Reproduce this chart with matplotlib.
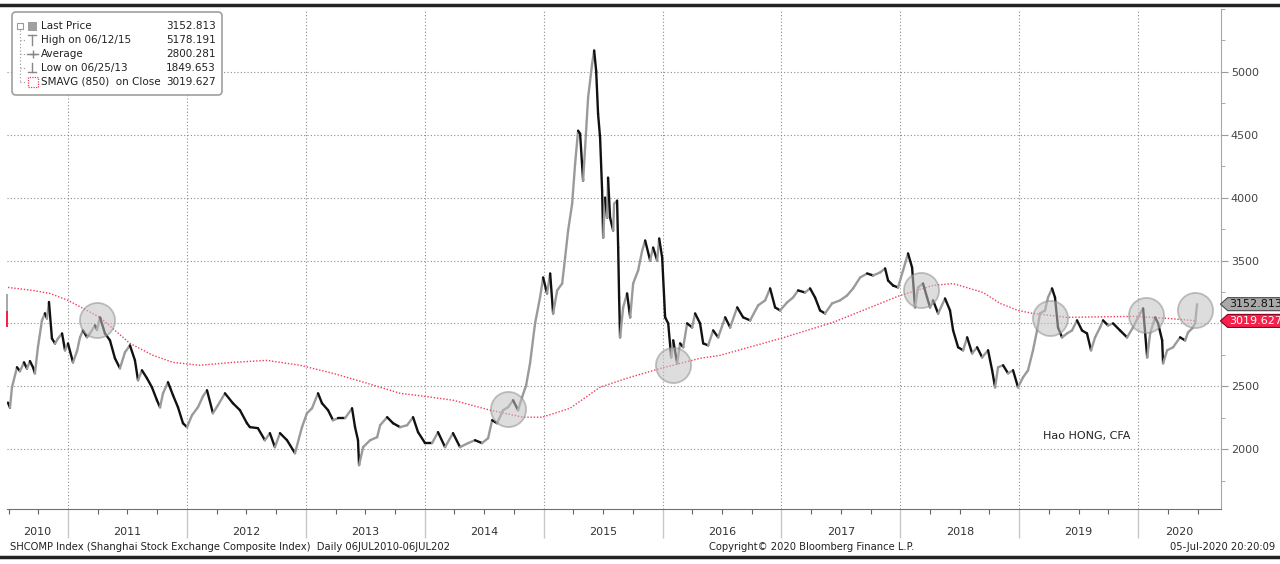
import numpy as np
import matplotlib
matplotlib.use('Agg')
import matplotlib.pyplot as plt
import matplotlib.transforms as mtransforms
from matplotlib.collections import LineCollection
from matplotlib.patches import Polygon, FancyBboxPatch, Rectangle
from matplotlib.lines import Line2D
from matplotlib.ticker import MultipleLocator, FixedLocator

plt.rcParams['font.family'] = ['DejaVu Sans']

# SHCOMP daily close (decimal years)
price_t = [
    2010.495, 2010.512, 2010.529, 2010.571, 2010.596, 2010.630, 2010.655, 2010.680, 2010.706, 2010.722,
    2010.747, 2010.781, 2010.806, 2010.823, 2010.840, 2010.865, 2010.891, 2010.916, 2010.950, 2010.975,
    2011.000, 2011.042, 2011.076, 2011.101, 2011.126, 2011.160, 2011.185, 2011.227, 2011.244, 2011.269,
    2011.311, 2011.353, 2011.395, 2011.437, 2011.479, 2011.521, 2011.563, 2011.589, 2011.622, 2011.664,
    2011.706, 2011.748, 2011.774, 2011.799, 2011.841, 2011.883, 2011.925, 2011.967, 2012.001, 2012.043,
    2012.093, 2012.135, 2012.169, 2012.219, 2012.261, 2012.320, 2012.387, 2012.446, 2012.505, 2012.530,
    2012.597, 2012.656, 2012.698, 2012.740, 2012.783, 2012.842, 2012.909, 2012.968, 2013.010, 2013.052,
    2013.103, 2013.136, 2013.187, 2013.229, 2013.271, 2013.330, 2013.389, 2013.414, 2013.439, 2013.448,
    2013.482, 2013.541, 2013.600, 2013.625, 2013.684, 2013.734, 2013.793, 2013.852, 2013.902, 2013.944,
    2014.003, 2014.062, 2014.112, 2014.171, 2014.238, 2014.297, 2014.365, 2014.423, 2014.482, 2014.533,
    2014.567, 2014.609, 2014.659, 2014.701, 2014.743, 2014.785, 2014.819, 2014.853, 2014.886, 2014.928,
    2014.970, 2014.996, 2015.029, 2015.055, 2015.080, 2015.114, 2015.156, 2015.181, 2015.206, 2015.240,
    2015.265, 2015.290, 2015.307, 2015.332, 2015.349, 2015.374, 2015.408, 2015.425, 2015.442, 2015.458,
    2015.475, 2015.492, 2015.501, 2015.517, 2015.534, 2015.542, 2015.559, 2015.585, 2015.593, 2015.618,
    2015.627, 2015.635, 2015.643, 2015.669, 2015.702, 2015.728, 2015.753, 2015.795, 2015.829, 2015.854,
    2015.896, 2015.921, 2015.955, 2015.972, 2015.997, 2016.022, 2016.048, 2016.073, 2016.090, 2016.123,
    2016.148, 2016.174, 2016.207, 2016.249, 2016.274, 2016.316, 2016.342, 2016.384, 2016.426, 2016.468,
    2016.527, 2016.569, 2016.628, 2016.678, 2016.737, 2016.804, 2016.863, 2016.905, 2016.947, 2016.989,
    2017.048, 2017.098, 2017.140, 2017.199, 2017.241, 2017.283, 2017.325, 2017.367, 2017.426, 2017.493,
    2017.552, 2017.603, 2017.662, 2017.721, 2017.771, 2017.830, 2017.872, 2017.897, 2017.939, 2017.981,
    2018.023, 2018.065, 2018.099, 2018.124, 2018.149, 2018.191, 2018.225, 2018.250, 2018.275, 2018.318,
    2018.376, 2018.418, 2018.444, 2018.486, 2018.528, 2018.562, 2018.604, 2018.646, 2018.688, 2018.738,
    2018.772, 2018.797, 2018.822, 2018.864, 2018.906, 2018.948, 2018.990, 2019.032, 2019.074, 2019.116,
    2019.150, 2019.175, 2019.217, 2019.242, 2019.276, 2019.301, 2019.326, 2019.360, 2019.402, 2019.444,
    2019.486, 2019.528, 2019.570, 2019.604, 2019.638, 2019.680, 2019.705, 2019.747, 2019.789, 2019.848,
    2019.907, 2019.957, 2020.016, 2020.042, 2020.076, 2020.101, 2020.143, 2020.168, 2020.202, 2020.210,
    2020.244, 2020.294, 2020.353, 2020.395, 2020.420, 2020.454, 2020.479, 2020.496]
price_v = [
    2370, 2330, 2492, 2651, 2620, 2690, 2640, 2700, 2650, 2603,
    2810, 3024, 3080, 3040, 3170, 2880, 2840, 2880, 2920, 2786,
    2840, 2690, 2780, 2889, 2944, 2890, 2920, 2984, 2950, 3048,
    2920, 2865, 2722, 2643, 2770, 2825, 2706, 2548, 2627, 2564,
    2492, 2389, 2333, 2444, 2532, 2429, 2333, 2206, 2175, 2270,
    2333, 2420, 2468, 2286, 2349, 2444, 2365, 2310, 2206, 2175,
    2167, 2071, 2127, 2016, 2127, 2071, 1968, 2175, 2286, 2325,
    2444, 2365, 2310, 2230, 2246, 2246, 2325, 2175, 2071, 1873,
    2016, 2071, 2095, 2190, 2254, 2206, 2175, 2190, 2254, 2135,
    2048, 2048, 2135, 2016, 2127, 2016, 2048, 2071, 2048, 2087,
    2230, 2206, 2310, 2333, 2389, 2310, 2413, 2508, 2683, 3000,
    3206, 3365, 3238, 3397, 3079, 3262, 3317, 3524, 3738, 3952,
    4270, 4532, 4508, 4135, 4397, 4794, 5064, 5170, 5008, 4667,
    4476, 4056, 3683, 4000, 3841, 4159, 3841, 3738, 3952, 3976,
    3603, 3206, 2889, 3127, 3238, 3048, 3317, 3421, 3579, 3659,
    3500, 3603, 3500, 3675, 3524, 3048, 3000, 2730, 2865, 2683,
    2841, 2810, 3000, 2968, 3079, 3000, 2841, 2825, 2944, 2889,
    3048, 2968, 3127, 3048, 3024, 3143, 3183, 3278, 3127, 3103,
    3167, 3206, 3262, 3246, 3278, 3206, 3103, 3079, 3159, 3183,
    3222, 3278, 3365, 3397, 3381, 3405, 3437, 3341, 3301, 3286,
    3421, 3556, 3444, 3127, 3286, 3317, 3206, 3127, 3183, 3079,
    3198, 3103, 2944, 2810, 2786, 2889, 2762, 2810, 2730, 2786,
    2627, 2492, 2651, 2667, 2603, 2627, 2492, 2571, 2627, 2786,
    2944, 3079, 3103, 3206, 3278, 3206, 2968, 2889, 2920, 2944,
    3024, 2944, 2920, 2786, 2889, 2968, 3024, 2984, 3000, 2944,
    2889, 2968, 3079, 3119, 2730, 2920, 3048, 3000, 2865, 2683,
    2786, 2810, 2889, 2865, 2928, 2960, 3000, 3153]

# SMAVG(850) line
sma_t = [2010.495, 2010.706, 2010.849, 2011.000, 2011.269, 2011.521, 2011.715, 2011.883, 2012.110,
         2012.388, 2012.674, 2012.951, 2013.229, 2013.515, 2013.793, 2013.960, 2014.238, 2014.549,
         2014.827, 2014.987, 2015.222, 2015.474, 2015.701, 2015.987, 2016.315, 2016.484, 2016.997,
         2017.434, 2017.998, 2018.275, 2018.443, 2018.695, 2018.839, 2018.990, 2019.116, 2019.402,
         2019.957, 2020.243, 2020.495]
sma_v = [3286, 3262, 3238, 3183, 3048, 2841, 2746, 2690, 2667,
         2690, 2706, 2667, 2603, 2524, 2444, 2425, 2389, 2310,
         2254, 2254, 2325, 2492, 2564, 2643, 2722, 2746, 2881,
         3008, 3222, 3302, 3317, 3246, 3159, 3103, 3079, 3048,
         3056, 3040, 3020]

# highlighted touch points
circle_t = [2011.244, 2014.698, 2016.091, 2018.174, 2019.259, 2020.066, 2020.478]
circle_v = [3030, 2317, 2667, 3262, 3045, 3063, 3103]

years = list(range(2010, 2021))
ytick_vals = [2000, 2500, 3000, 3500, 4000, 4500, 5000]
ytick_text = ['2000', '2500', '', '3500', '4000', '4500', '5000']

legend_labels = ['Last Price', 'High on 06/12/15', 'Average', 'Low on 06/25/13', 'SMAVG (850)  on Close']
legend_values = ['3152.813', '5178.191', '2800.281', '1849.653', '3019.627']
last_price = 3152.813
last_sma = 3019.627

W, H = 1280, 564
fig = plt.figure(figsize=(W / 100, H / 100), dpi=100, facecolor='white')
idt = mtransforms.IdentityTransform()

def fx(px):
    return px / W

def fy(py):
    return 1 - py / H

ax = fig.add_axes([fx(7), fy(509), fx(1221) - fx(7), (509 - 9) / H])
xlim = (2010.487, 2020.697)
ylim = (1524, 5500)
ax.set_xlim(*xlim)
ax.set_ylim(*ylim)

# price line: grey on up moves, black on down moves
pts = np.column_stack([price_t, price_v])
segs = np.stack([pts[:-1], pts[1:]], axis=1)
cols = ['#9a9a9a' if b > a else '#111111' for a, b in zip(price_v[:-1], price_v[1:])]
ax.add_collection(LineCollection(segs, colors=cols, linewidths=1.7, zorder=3, capstyle='round'))

ax.plot(sma_t, sma_v, color='#f23a5a', lw=1.0, ls=(0, (1, 1.3)), zorder=2.5)

ax.scatter(circle_t, circle_v, s=640, facecolor='#c2c2c2', edgecolor='#8f8f8f',
           alpha=0.55, linewidths=1.3, zorder=4)

# axes styling
for s in ['top', 'left']:
    ax.spines[s].set_visible(False)
ax.spines['right'].set_color('#a8a8a8')
ax.spines['bottom'].set_color('#707070')

ax.yaxis.tick_right()
ax.set_yticks(ytick_vals)
ax.set_yticklabels(ytick_text)
ax.yaxis.set_minor_locator(MultipleLocator(250))
ax.tick_params(axis='y', which='major', length=5, color='#9a9a9a', labelsize=8,
               labelcolor='#444444', pad=2)
ax.tick_params(axis='y', which='minor', length=3, color='#9a9a9a')

ax.set_xticks(years[1:])
ax.set_xticklabels([])
quarters = [y + q * 0.25 for y in years for q in (1, 2, 3) if xlim[0] < y + q * 0.25 < xlim[1]]
ax.xaxis.set_minor_locator(FixedLocator(quarters))
ax.tick_params(axis='x', which='major', length=21, color='#c8c8c8', width=1)
ax.tick_params(axis='x', which='minor', length=3.5, color='#666666', width=0.8)

ax.grid(axis='both', which='major', color='#8c8c8c', ls=(0, (1, 2)), lw=0.8, zorder=0)

trans_x = mtransforms.blended_transform_factory(ax.transData, ax.transAxes)
for y in years:
    lo, hi = max(y, xlim[0]), min(y + 1, xlim[1])
    ax.text((lo + hi) / 2, -23 / 500, str(y), transform=trans_x, ha='center', va='center',
            fontsize=8, color='#333333')

# value tags on the right axis
trans_y = mtransforms.blended_transform_factory(ax.transAxes, ax.transData)
half = 6.5 * (ylim[1] - ylim[0]) / 500
for val, face, edge, tc in [(last_price, '#a9a9a9', '#4a4a4a', '#111111'),
                            (last_sma, '#f5214b', '#8a0020', 'white')]:
    poly = Polygon([(0.9995, val), (1.0055, val + half), (1.06, val + half),
                    (1.06, val - half), (1.0055, val - half)], closed=True,
                   transform=trans_y, facecolor=face, edgecolor=edge, lw=0.8, clip_on=False, zorder=6)
    ax.add_patch(poly)
    ax.text(1.0068, val, f'{val:.3f}', transform=trans_y, fontsize=8, color=tc,
            va='center', ha='left', clip_on=False, zorder=7)

# small tags on the left edge
ax.add_patch(Rectangle((-0.0012, 3095), 0.0022, 135, transform=trans_y, facecolor='#a9a9a9',
                       edgecolor='none', clip_on=False, zorder=6))
ax.add_patch(Rectangle((-0.0012, 2968), 0.0022, 127, transform=trans_y, facecolor='#f5214b',
                       edgecolor='none', clip_on=False, zorder=6))

ax.text((1043 - 7) / 1214, (509 - 436) / 500, 'Hao HONG, CFA',
        transform=ax.transAxes, fontsize=8, color='#222222', va='center', ha='left')

# legend box
fig.add_artist(FancyBboxPatch((12, H - 95), 210, 83, boxstyle='round,pad=0,rounding_size=4',
                              transform=idt, facecolor='white', edgecolor='#a0a0a0', lw=1.2, zorder=10))
rows = [26, 40, 54, 68, 82]
for yy, lab, val in zip(rows, legend_labels, legend_values):
    fig.text(fx(41), fy(yy), lab, fontsize=7.5, color='#222222', va='center', ha='left', zorder=11)
    fig.text(fx(216), fy(yy), val, fontsize=7.5, color='#222222', va='center', ha='right', zorder=11)

def pline(xs, ys, **kw):
    fig.add_artist(Line2D(xs, [H - v for v in ys], transform=idt, zorder=11, **kw))

# tree lines and icons
pline([20, 20], [30, 82], color='#9a9a9a', lw=0.8, ls=(0, (1, 2)))
for yy in rows[1:]:
    pline([20, 26], [yy, yy], color='#9a9a9a', lw=0.8, ls=(0, (1, 2)))
fig.add_artist(Rectangle((17, H - 29), 6, 6, transform=idt, facecolor='white',
                         edgecolor='#9a9a9a', lw=0.8, zorder=12))
pline([18.5, 21.5], [26, 26], color='#777777', lw=0.8)
fig.add_artist(Rectangle((28, H - 31), 9, 9, transform=idt, facecolor='#a0a0a0',
                         edgecolor='none', zorder=12))
pline([28, 36], [35, 35], color='#888888', lw=1)
pline([32, 32], [35, 45], color='#888888', lw=1)
pline([27, 38], [54, 54], color='#888888', lw=1)
pline([32.5], [54], color='#888888', marker='+', markersize=6, markeredgewidth=1, ls='none')
pline([32, 32], [63, 72], color='#888888', lw=1)
pline([28, 36], [72, 72], color='#888888', lw=1)
fig.add_artist(Rectangle((27.5, H - 87), 10, 10, transform=idt, facecolor='none',
                         edgecolor='#f23a5a', lw=0.9, ls=(0, (1, 1)), zorder=12))

# top and bottom frame rules
pline([0, W], [5, 5], color='#222222', lw=2.5)
pline([0, W], [557, 557], color='#222222', lw=2.5)

# footer
fig.text(fx(10), fy(547), 'SHCOMP Index (Shanghai Stock Exchange Composite Index)  Daily 06JUL2010-06JUL202',
         fontsize=7.2, color='#222222', va='center', ha='left')
fig.text(fx(709), fy(547), 'Copyright\u00a9 2020 Bloomberg Finance L.P.',
         fontsize=7.2, color='#222222', va='center', ha='left')
fig.text(fx(1275), fy(547), '05-Jul-2020 20:20:09',
         fontsize=7.2, color='#222222', va='center', ha='right')

fig.savefig('out.png', dpi=100, facecolor='white')
